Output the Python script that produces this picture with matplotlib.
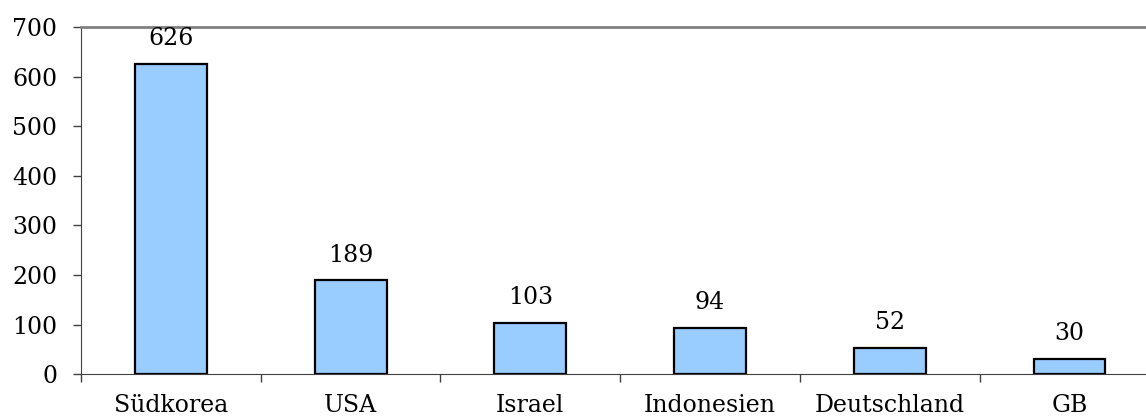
import numpy as np
import matplotlib
matplotlib.use("Agg")
import matplotlib.pyplot as plt
from matplotlib.ticker import FixedLocator

## BAR CHART: COUNTRIES
countries = ["Südkorea", "USA", "Israel", "Indonesien", "Deutschland", "GB"]
values = [626, 189, 103, 94, 52, 30]
yticks = [0, 100, 200, 300, 400, 500, 600, 700]

plt.rcParams['font.family'] = ['DejaVu Serif']

fig = plt.figure(figsize=(11.46, 4.18), dpi=100)
ax = fig.add_axes([0.0707, 0.105, 0.941, 0.83])

x = np.arange(len(countries))
bars = ax.bar(x, values, width=0.4, color='#99CCFF', edgecolor='black', linewidth=1.6)

for xi, v in zip(x, values):
    ax.annotate(str(v), (xi, v), xytext=(0, 10), textcoords='offset points',
                ha='center', va='bottom', fontsize=17)

ax.set_xlim(-0.5, len(countries) - 0.5)
ax.set_ylim(0, 700)
ax.set_yticks(yticks)
ax.set_xticks(x)
ax.set_xticklabels(countries, fontsize=17)
ax.xaxis.set_minor_locator(FixedLocator(np.arange(-0.5, len(countries), 1.0)))
ax.tick_params(axis='x', which='major', length=0, pad=14)
ax.tick_params(axis='x', which='minor', length=6, width=1, color='#404040', direction='out')
ax.tick_params(axis='y', labelsize=17, length=6, width=1, color='#404040', direction='out', pad=11)

ax.spines['right'].set_visible(False)
ax.spines['top'].set_color('#808080')
ax.spines['top'].set_linewidth(2)
ax.spines['left'].set_color('#404040')
ax.spines['bottom'].set_color('#404040')

fig.savefig("out.png", dpi=100)
